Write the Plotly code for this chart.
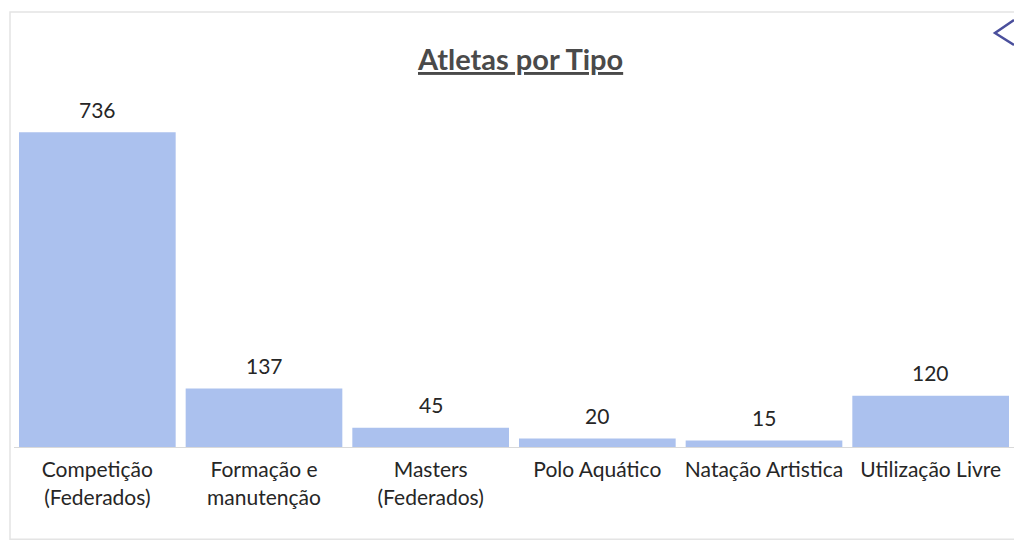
import plotly.graph_objects as go

categories = ["Competição<br>(Federados)", "Formação e<br>manutenção", "Masters<br>(Federados)",
              "Polo Aquático", "Natação Artistica", "Utilização Livre"]
athletes = [736, 137, 45, 20, 15, 120]

bar_color = "#abc1ee"
text_color = "#262626"
font_family = "Lato, 'Open Sans', sans-serif"

fig = go.Figure()
fig.add_trace(go.Bar(
    x=categories,
    y=athletes,
    marker=dict(color=bar_color, line=dict(width=0)),
    width=0.94,
    hoverinfo="x+y",
))

# value labels above each bar
for cat, val in zip(categories, athletes):
    fig.add_annotation(x=cat, y=val, text=str(val), showarrow=False,
                       yanchor="middle", yshift=23,
                       font=dict(size=21, color=text_color, family=font_family))

# chart title
fig.add_annotation(x=0.506, y=1.0, xref="paper", yref="paper",
                   text="<b><u>Atletas por Tipo</u></b>", showarrow=False,
                   yanchor="bottom", yshift=27,
                   font=dict(size=29, color="#4a4a4a", family=font_family))

# outer chart frame
fig.add_shape(type="rect", xref="paper", yref="paper",
              x0=-0.004, x1=1.02, y0=-0.27, y1=1.272,
              line=dict(color="#e4e4e4", width=1.5), layer="below")

# pen mark at the top-right corner
fig.add_shape(type="path", xref="paper", yref="paper",
              path="M 1.0 1.2485 L 0.981 1.2105 L 1.0 1.1754",
              line=dict(color="#4a4f9c", width=2.5))

fig.update_layout(
    width=1014, height=549,
    margin=dict(l=14, r=0, t=105, b=102),
    paper_bgcolor="white", plot_bgcolor="white",
    showlegend=False,
    font=dict(family=font_family, color=text_color),
    bargap=0.06,
)
fig.update_xaxes(
    showgrid=False, showline=True, linecolor="#d9d9d9", linewidth=1,
    ticks="", ticklabelstandoff=4,
    tickfont=dict(size=21, color=text_color, family=font_family),
)
fig.update_yaxes(visible=False, range=[0, 800], showgrid=False)

fig.write_html("out.html")
